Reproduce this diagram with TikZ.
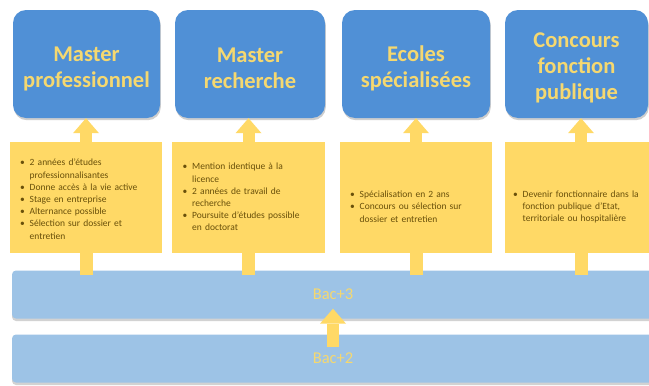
\documentclass[tikz,border=0pt]{standalone}
\usepackage{fontspec}
\setmainfont{Carlito}
\usetikzlibrary{arrows.meta,shadows,calc}
\definecolor{boxblue}{RGB}{80,144,214}
\definecolor{bandblue}{RGB}{157,195,230}
\definecolor{ygold}{RGB}{255,217,102}
\definecolor{titley}{RGB}{245,216,112}
\definecolor{txtbrown}{RGB}{105,80,10}
\newcommand{\bul}{\textbullet}
\begin{document}
\begin{tikzpicture}[x=1pt,y=-1pt,
 titlebox/.style={fill=boxblue, rounded corners=13pt, minimum height=108pt, inner sep=0pt,
   drop shadow={shadow xshift=0.8pt,shadow yshift=-2.2pt,opacity=0.35,fill=black!55}},
 titletext/.style={text=titley, font=\fontsize{22.5}{26}\selectfont\bfseries, align=center, inner sep=0pt},
 infobox/.style={fill=ygold, minimum height=111pt, minimum width=152pt, inner sep=0pt},
 infotext/.style={text=txtbrown, font=\fontsize{9.5}{12.2}\selectfont, inner sep=0pt, text width=132pt, align=left},
 band/.style={fill=bandblue, rounded corners=4pt, minimum height=48pt, minimum width=642pt,
   text=titley, font=\fontsize{16.5}{18}\selectfont, inner sep=0pt,
   drop shadow={shadow xshift=0pt,shadow yshift=-2.5pt,opacity=0.35,fill=black!50}},
 uparrow/.style={draw=ygold, line width=12pt, -{Triangle[width=26pt,length=15pt,line width=0pt]}},
 stub/.style={draw=ygold, line width=13pt}
]
\useasboundingbox (0,0) rectangle (649,386);
\fill[white] (0,0) rectangle (649,386);
\clip (0,0) rectangle (649,386);

% title boxes
\node[titlebox, minimum width=147pt] (b1) at (86.5,64) {};
\node[titlebox, minimum width=150pt] (b2) at (250,64) {};
\node[titlebox, minimum width=148pt] (b3) at (416,64) {};
\node[titlebox, minimum width=143pt] (b4) at (576.5,64) {};
\node[titletext] (h1) at ($(b1.center)+(0,4.5)$) {Master\\professionnel};
\node[titletext] (h2) at ($(b2.center)+(0,4.5)$) {Master\\recherche};
\node[titletext] (h3) at ($(b3.center)+(0,4.5)$) {Ecoles\\spécialisées};
\node[titletext] (h4) at ($(b4.center)+(0,3.5)$) {Concours\\fonction\\publique};

% info boxes
\node[infobox] (y1) at (86,197.5) {};
\node[infobox, minimum width=153pt] (y2) at (248.5,197.5) {};
\node[infobox] (y3) at (416,197.5) {};
\node[infobox] (y4) at (581,197.5) {};

\node[infotext] (t1) at ($(y1.center)+(0,2.5)$) {\begin{tabular}{@{}l@{\hspace{5pt}}l@{}}
\bul & 2 années d'études\\
 & professionnalisantes\\
\bul & Donne accès à la vie active\\
\bul & Stage en entreprise\\
\bul & Alternance possible\\
\bul & Sélection sur dossier et\\
 & entretien
\end{tabular}};
\node[infotext] (t2) at ($(y2.center)+(0,0.5)$) {\begin{tabular}{@{}l@{\hspace{5pt}}l@{}}
\bul & Mention identique à la\\
 & licence\\
\bul & 2 années de travail de\\
 & recherche\\
\bul & Poursuite d'études possible\\
 & en doctorat
\end{tabular}};
\node[infotext] (t3) at ($(y3.center)+(0,10)$) {\begin{tabular}{@{}l@{\hspace{5pt}}l@{}}
\bul & Spécialisation en 2 ans\\
\bul & Concours ou sélection sur\\
 & dossier et entretien
\end{tabular}};
\node[infotext] (t4) at ($(y4.center)+(-2,9.5)$) {\begin{tabular}{@{}l@{\hspace{5pt}}l@{}}
\bul & Devenir fonctionnaire dans la\\
 & fonction publique d'Etat,\\
 & territoriale ou hospitalière
\end{tabular}};

% bands
\node[band] (bac3) at (333,294.5) {Bac+3};
\node[band] (bac2) at (333,358.5) {Bac+2};

% arrows up to title boxes
\foreach \i in {1,2,3,4}{
  \draw[uparrow] (y\i.north) -- (y\i.north |- b\i.south);
  \draw[stub] (y\i.south) -- ($(y\i.south |- bac3.north)+(0,5)$);
}
\draw[uparrow] ($(bac2.north)+(0,13)$) -- ($(bac3.south)+(0,-10)$);
\end{tikzpicture}
\end{document}
